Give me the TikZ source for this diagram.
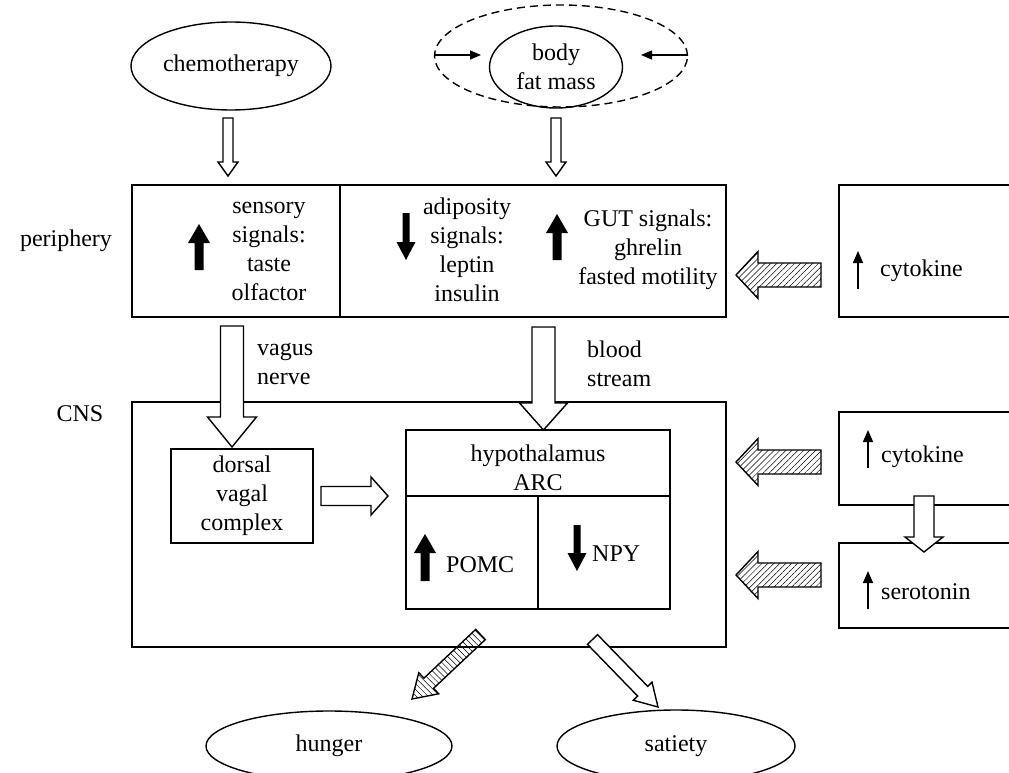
\documentclass[tikz,border=0pt]{standalone}
\usepackage{fontspec}
\setmainfont{Liberation Serif}
\usetikzlibrary{calc,arrows.meta,patterns.meta,shapes.geometric}

\tikzset{
 lw/.style={line width=1.4pt},
 fnt/.style={font=\fontsize{24}{29}\selectfont},
 boxnode/.style={draw, line width=1.4pt, rectangle, inner sep=0pt},
 ellnode/.style={draw, line width=1.4pt, ellipse, inner sep=0pt, fnt, align=center},
 txt/.style={align=center, inner sep=0pt, fnt},
 ltxt/.style={align=left, inner sep=0pt, fnt, anchor=west},
 hollowarr/.style={draw, line width=1.4pt, fill=white, line join=miter},
 solidarr/.style={fill=black, draw=none},
 hatcharr/.style={draw, line width=1.4pt, line join=miter, preaction={fill=white}, pattern={Lines[angle=45,distance=4.2pt,line width=0.5pt]}},
 hatcharrb/.style={draw, line width=1.4pt, line join=miter, pattern={Lines[angle=-45,distance=4.2pt,line width=0.5pt]}},
 thinarr/.style={line width=1.5pt, -{Triangle[length=12pt,width=10pt]}},
 smallarr/.style={line width=1.4pt, -{Triangle[length=11pt,width=9pt]}},
}

% #1 style, #2 start, #3 end, #4 half shaft, #5 half head, #6 head length
\newcommand{\blockarrow}[6]{%
  \coordinate (baS) at (#2);
  \coordinate (baE) at (#3);
  \coordinate (baH) at ($(baE)!#6!(baS)$);
  \path[#1] ($(baS)!#4!90:(baE)$) -- ($(baH)!#4!-90:(baS)$) -- ($(baH)!#5!-90:(baS)$) -- (baE) -- ($(baH)!#5!90:(baS)$) -- ($(baH)!#4!90:(baS)$) -- ($(baS)!#4!-90:(baE)$) -- cycle;
}

\begin{document}
\begin{tikzpicture}[x=1pt,y=-1pt]
\useasboundingbox (0,0) rectangle (1009,773);
\clip (0,0) rectangle (1009,773);
\fill[white] (0,0) rectangle (1009,773);

% ---------- top ----------
\node[ellnode, minimum width=200pt, minimum height=88pt] (chemo) at (231,66) {chemotherapy};
\node[ellnode, dash pattern=on 8pt off 5pt, minimum width=253pt, minimum height=102pt] (dash) at (561,56) {};
\node[ellnode, minimum width=133pt, minimum height=82pt] (body) at (556,67) {body\\fat mass};
\coordinate (dlE) at (481,55);
\coordinate (drE) at (641,55);
\draw[smallarr] (dash.west |- dlE) -- (dlE);
\draw[smallarr] (dash.east |- drE) -- (drE);

\coordinate (chS) at (228,118); \coordinate (chE) at (228,176);
\blockarrow{hollowarr}{chS}{chE}{5pt}{10pt}{14pt}
\coordinate (bfS) at (556,118); \coordinate (bfE) at (556,176);
\blockarrow{hollowarr}{bfS}{bfE}{5pt}{10pt}{14pt}

% ---------- periphery ----------
\node[txt] (perilab) at (66,241) {periphery};
\node[boxnode, minimum width=594pt, minimum height=132pt] (peri) at (429,251) {};
\coordinate (pdiv) at (340,0);
\draw[lw] (peri.north -| pdiv) -- (peri.south -| pdiv);
\node[txt] (sens) at (269,251) {sensory\\signals:\\taste\\olfactor};
\coordinate (s1S) at (199,270); \coordinate (s1E) at (199,224);
\blockarrow{solidarr}{s1S}{s1E}{4.5pt}{11pt}{19pt}
\node[txt] (adip) at (467,250) {adiposity\\signals:\\leptin\\insulin};
\coordinate (a1S) at (406,213); \coordinate (a1E) at (406,260);
\blockarrow{solidarr}{a1S}{a1E}{3.5pt}{9.5pt}{18pt}
\node[txt] (gut) at (648,250) {GUT signals:\\ghrelin\\fasted motility};
\coordinate (g1S) at (557,260); \coordinate (g1E) at (557,214);
\blockarrow{solidarr}{g1S}{g1E}{4.5pt}{11pt}{19pt}

% right cytokine (periphery)
\node[boxnode, minimum width=191pt, minimum height=132pt] (cyt1) at (934.5,251) {};
\coordinate (c1S) at (858,289); \coordinate (c1E) at (858,251);
\draw[thinarr] (c1S) -- (c1E);
\node[ltxt] (cyt1t) at (880,271) {cytokine};
\coordinate (h1S) at (821,275); \coordinate (h1E) at (736,275);
\blockarrow{hatcharr}{h1S}{h1E}{12pt}{23.5pt}{22pt}

% ---------- connectors periphery -> CNS ----------
\coordinate (vgS) at (232,326); \coordinate (vgE) at (232,447);
\node[ltxt] (vagus) at (257,364) {vagus\\nerve};
\coordinate (blS) at (543.5,327); \coordinate (blE) at (543.5,430);
\node[ltxt] (blood) at (587,364) {blood\\stream};

% ---------- CNS ----------
\node[txt] (cnslab) at (80,414) {CNS};
\node[boxnode, minimum width=594pt, minimum height=245pt] (cns) at (429,524.5) {};
\node[boxnode, minimum width=142pt, minimum height=94pt, fnt, align=center] (dvc) at (242,496) {dorsal\\vagal\\complex};
\node[boxnode, minimum width=264pt, minimum height=179pt] (hyp) at (538,519.5) {};
\coordinate (hdiv) at (0,496);
\draw[lw] (hyp.west |- hdiv) -- (hyp.east |- hdiv);
\draw[lw] (hyp.south) -- (hyp.south |- hdiv);
\node[txt] (hypt) at (538,468) {hypothalamus\\ARC};
\coordinate (p1S) at (425,581); \coordinate (p1E) at (425,534);
\blockarrow{solidarr}{p1S}{p1E}{4.5pt}{11pt}{19pt}
\node[ltxt] (pomc) at (446,565) {POMC};
\coordinate (n1S) at (577,525); \coordinate (n1E) at (577,571);
\blockarrow{solidarr}{n1S}{n1E}{3.5pt}{9.5pt}{18pt}
\node[ltxt] (npy) at (592,554) {NPY};

\blockarrow{hollowarr}{vgS}{vgE}{11.5pt}{24.5pt}{30pt}
\blockarrow{hollowarr}{blS}{blE}{11.5pt}{24pt}{27pt}
\coordinate (dhS) at (321,496); \coordinate (dhE) at (388,496);
\blockarrow{hollowarr}{dhS}{dhE}{9.5pt}{19pt}{17pt}

% right boxes (CNS)
\node[boxnode, minimum width=191pt, minimum height=93pt] (cyt2) at (934.5,458.5) {};
\coordinate (c2S) at (868,468); \coordinate (c2E) at (868,430);
\draw[thinarr] (c2S) -- (c2E);
\node[ltxt] (cyt2t) at (881,457) {cytokine};
\node[boxnode, minimum width=191pt, minimum height=85pt] (sero) at (934.5,585.5) {};
\coordinate (c3S) at (868,609); \coordinate (c3E) at (868,571);
\draw[thinarr] (c3S) -- (c3E);
\node[ltxt] (serot) at (881,592) {serotonin};
\coordinate (csS) at (924,496); \coordinate (csE) at (924,552);
\blockarrow{hollowarr}{csS}{csE}{10pt}{19pt}{15pt}
\coordinate (h2S) at (821,462); \coordinate (h2E) at (736,462);
\blockarrow{hatcharr}{h2S}{h2E}{12pt}{23.5pt}{22pt}
\coordinate (h3S) at (821,575); \coordinate (h3E) at (736,575);
\blockarrow{hatcharr}{h3S}{h3E}{12pt}{23.5pt}{22pt}

% ---------- bottom ----------
\node[ellnode, minimum width=246pt, minimum height=70pt] (hunger) at (329,746) {hunger};
\node[ellnode, minimum width=238pt, minimum height=72pt] (satiety) at (676,746) {satiety};
\coordinate (huS) at (480.5,634.5); \coordinate (huE) at (412,699);
\blockarrow{hatcharrb}{huS}{huE}{7pt}{14.5pt}{23pt}
\coordinate (saS) at (592.5,639.5); \coordinate (saE) at (658,707);
\blockarrow{hollowarr}{saS}{saE}{7pt}{13pt}{22pt}
\end{tikzpicture}
\end{document}
